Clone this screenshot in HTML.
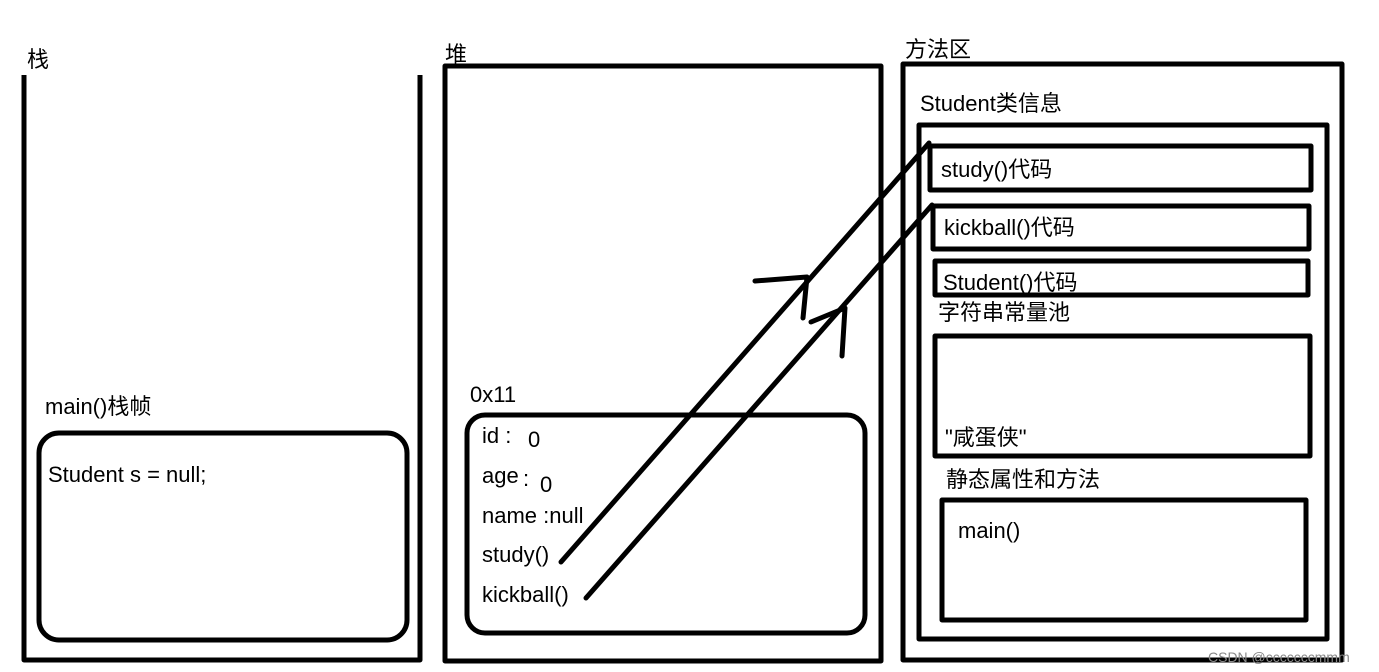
<!DOCTYPE html>
<html><head><meta charset="utf-8"><style>
html,body{margin:0;padding:0;background:#fff;}
svg{display:block;}
text{font-family:"Liberation Sans","Noto Sans CJK SC",sans-serif;font-size:22px;fill:#000;}
</style></head><body>
<svg width="1379" height="672" viewBox="0 0 1379 672" xmlns="http://www.w3.org/2000/svg">
<g fill="none" stroke="#000" stroke-width="5" stroke-linecap="round" stroke-linejoin="round">
<polyline points="24,75 24,660 420,660 420,75" stroke-linecap="butt"/>
<rect x="39" y="433" width="368" height="207" rx="20"/>
<rect x="445" y="66" width="436" height="595"/>
<rect x="467" y="415" width="398" height="218" rx="18"/>
<rect x="903" y="64" width="439" height="596"/>
<rect x="919" y="125" width="408" height="514"/>
<rect x="930" y="146" width="381" height="44"/>
<rect x="933" y="206" width="376" height="43"/>
<rect x="935" y="261" width="373" height="34"/>
<rect x="935" y="336" width="375" height="120"/>
<rect x="942" y="500" width="364" height="120"/>
<line x1="561" y1="562" x2="929" y2="143"/>
<line x1="586" y1="598" x2="932" y2="205"/>
<polyline points="755,281 807,277 803,318"/>
<polyline points="811,322 845,308 842,356"/>
</g>
<text x="27" y="67">栈</text>
<text x="445" y="62">堆</text>
<text x="905" y="57">方法区</text>
<text x="45" y="414">main()栈帧</text>
<text x="48" y="482">Student s = null;</text>
<text x="470" y="402">0x11</text>
<text x="482" y="443">id :</text>
<text x="528" y="447">0</text>
<text x="482" y="483">age</text>
<text x="523" y="486">:</text>
<text x="540" y="492">0</text>
<text x="482" y="523">name :null</text>
<text x="482" y="562">study()</text>
<text x="482" y="602">kickball()</text>
<text x="920" y="111">Student类信息</text>
<text x="941" y="177">study()代码</text>
<text x="944" y="235">kickball()代码</text>
<text x="943" y="290">Student()代码</text>
<text x="938" y="320">字符串常量池</text>
<text x="945" y="445">"咸蛋侠"</text>
<text x="946" y="487">静态属性和方法</text>
<text x="958" y="538">main()</text>
<text x="1208" y="662" style="font-size:14px;fill:#888">CSDN @cccccccmmm</text>
</svg>
</body></html>
